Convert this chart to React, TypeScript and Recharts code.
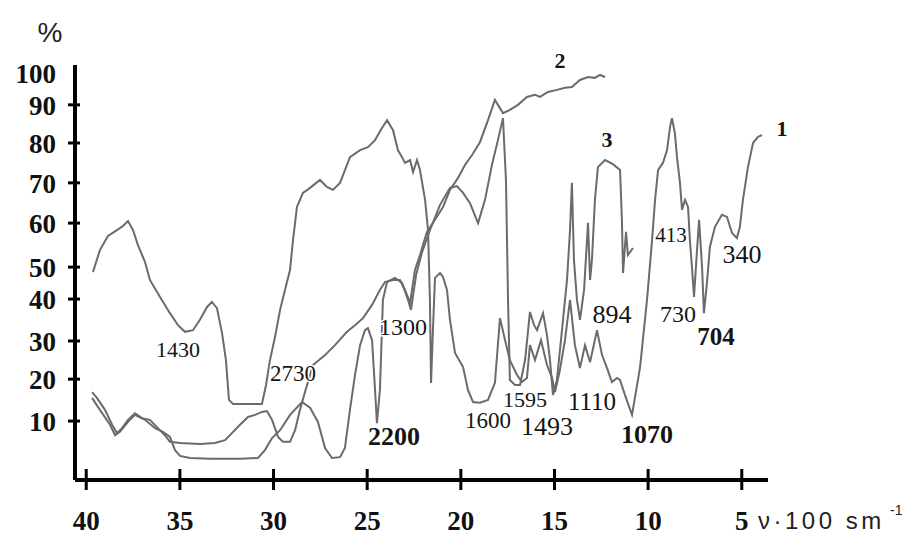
import { Line, LineChart, XAxis, YAxis } from "recharts";

// wavenumber / 100 (cm-1) and transmittance level as drawn on the printed axis
const wavenumberTicks = [40, 35, 30, 25, 20, 15, 10, 5];
const yTickLabels = [100, 90, 80, 70, 60, 50, 40, 30, 20, 10];
const yTickLevels = [98.1, 90.4, 81.2, 71.6, 61.9, 51.3, 43.6, 33.5, 24.3, 14.2];

const spectrum1: [number, number][] = [
  [39.64, 50.1], [39.27, 55.4], [38.84, 58.8], [38.36, 60.2], [38.04, 61.2], [37.77, 62.4], [37.5, 60.2],
  [37.24, 56.6], [36.86, 52.5], [36.6, 48.2], [36.06, 44.1], [35.53, 40.2], [35.1, 37.3], [34.73, 35.7],
  [34.3, 36.1], [33.93, 38.6], [33.55, 41.7], [33.29, 42.9], [33.02, 41.4], [32.75, 35.4], [32.54, 28.9],
  [32.38, 19.3], [32.16, 18.3], [31.52, 18.3], [30.62, 18.3], [30.4, 22.9], [30.19, 28.9], [29.92, 34.5],
  [29.65, 41.0], [29.39, 45.8], [29.12, 50.6], [28.96, 57.8], [28.75, 65.8], [28.43, 69.2], [28.05, 70.4],
  [27.52, 72.3], [27.15, 70.6], [26.83, 69.9], [26.45, 71.6], [25.92, 77.8], [25.38, 79.5], [24.96, 80.2],
  [24.58, 81.9], [24.21, 84.8], [23.94, 86.7], [23.62, 84.3], [23.36, 79.5], [23.14, 77.8], [22.98, 76.4],
  [22.71, 77.1], [22.55, 74.2], [22.34, 77.1], [22.18, 74.7], [21.91, 67.5], [21.75, 60.2], [21.65, 43.4],
  [21.59, 23.4], [21.49, 36.1], [21.38, 48.7], [21.11, 49.9], [20.95, 48.9], [20.74, 45.8], [20.58, 38.6],
  [20.31, 30.6], [19.88, 27.2], [19.62, 21.7], [19.35, 18.8], [18.98, 18.6], [18.55, 19.3], [18.18, 23.4],
  [17.91, 39.0], [17.64, 33.7], [17.38, 28.9], [17.0, 25.3], [16.74, 23.6], [16.47, 24.6], [16.31, 32.5],
  [16.04, 28.9], [15.72, 33.7], [15.4, 27.7], [15.13, 24.6], [14.97, 21.2], [14.71, 26.5], [14.44, 33.7],
  [14.17, 43.4], [13.91, 32.5], [13.64, 27.0], [13.37, 32.5], [13.1, 28.4], [12.73, 36.1], [12.46, 30.1],
  [12.2, 27.0], [11.93, 23.6], [11.66, 24.6], [11.5, 24.1], [11.24, 20.5], [10.86, 15.7], [10.43, 27.2],
  [10.06, 43.4], [9.79, 57.8], [9.63, 67.5], [9.47, 74.7], [9.21, 76.4], [8.99, 79.5], [8.83, 85.1],
  [8.73, 87.2], [8.57, 83.6], [8.46, 77.8], [8.3, 71.6], [8.19, 65.1], [8.03, 67.5], [7.87, 65.8],
  [7.77, 57.8], [7.66, 51.3], [7.55, 44.1], [7.39, 55.4], [7.28, 62.7], [7.12, 51.3], [7.02, 40.2],
  [6.86, 47.5], [6.7, 56.2], [6.43, 61.0], [6.06, 63.9], [5.79, 63.4], [5.52, 59.5], [5.26, 58.3],
  [5.1, 61.0], [4.94, 67.5], [4.67, 75.4], [4.4, 81.2], [4.14, 82.7], [3.92, 83.1],
];

const spectrum2: [number, number][] = [
  [39.69, 21.2], [39.43, 19.8], [39.0, 16.9], [38.62, 13.3], [38.36, 11.3], [38.09, 12.5], [37.77, 14.5],
  [37.4, 16.1], [37.02, 14.9], [36.6, 14.5], [36.17, 12.5], [35.8, 10.8], [35.53, 9.2], [34.99, 8.9],
  [33.93, 8.7], [33.13, 8.9], [32.59, 9.6], [32.22, 11.3], [31.79, 13.3], [31.36, 15.2], [30.99, 15.7],
  [30.62, 16.4], [30.35, 16.6], [30.08, 14.5], [29.76, 10.4], [29.5, 9.2], [29.12, 9.2], [28.85, 12.0],
  [28.59, 16.9], [28.32, 21.2], [27.89, 27.7], [27.25, 30.1], [26.72, 32.5], [26.08, 35.7], [25.65, 37.3],
  [25.22, 39.0], [24.74, 42.2], [24.32, 45.8], [24.05, 47.7], [23.62, 48.2], [23.25, 48.2], [22.98, 45.8],
  [22.71, 42.7], [22.45, 50.6], [22.18, 54.2], [21.81, 59.8], [21.38, 62.7], [20.95, 65.8], [20.58, 69.9],
  [20.15, 72.8], [19.78, 75.9], [19.4, 78.3], [18.98, 81.4], [18.55, 86.7], [18.18, 91.6], [17.75, 88.4],
  [17.38, 89.2], [16.95, 90.4], [16.47, 92.3], [16.04, 92.8], [15.77, 92.3], [15.35, 93.5], [14.87, 94.0],
  [14.44, 94.5], [14.07, 94.7], [13.64, 96.4], [13.21, 97.1], [12.84, 96.9], [12.57, 97.6], [12.3, 97.1],
];

const spectrum3: [number, number][] = [
  [39.69, 19.8], [39.27, 16.9], [38.73, 13.3], [38.46, 10.8], [38.2, 11.6], [37.77, 14.0], [37.4, 15.7],
  [36.86, 14.5], [36.33, 12.5], [35.9, 11.6], [35.53, 10.4], [35.26, 7.2], [34.99, 5.8], [34.46, 5.3],
  [33.39, 5.1], [31.79, 5.1], [30.83, 5.3], [30.46, 7.2], [30.08, 10.1], [29.65, 12.0], [29.12, 15.7],
  [28.48, 18.8], [28.05, 17.4], [27.63, 14.0], [27.25, 7.7], [26.88, 5.3], [26.45, 5.5], [26.19, 7.7],
  [25.92, 16.9], [25.65, 25.3], [25.38, 32.5], [25.12, 36.1], [24.96, 36.6], [24.74, 33.7], [24.58, 21.7],
  [24.48, 13.7], [24.32, 21.7], [24.16, 43.4], [23.94, 47.7], [23.52, 48.7], [23.14, 47.5], [22.82, 43.4],
  [22.66, 41.0], [22.39, 49.4], [22.07, 54.9], [21.65, 60.2], [21.11, 66.3], [20.58, 70.4], [20.21, 70.8],
  [19.88, 69.2], [19.51, 66.7], [19.08, 61.9], [18.71, 67.5], [18.34, 75.9], [18.02, 81.9], [17.75, 87.2],
  [17.59, 72.3], [17.48, 43.4], [17.38, 24.1], [17.11, 22.9], [16.84, 22.9], [16.57, 28.9], [16.31, 40.5],
  [16.09, 37.3], [15.93, 36.1], [15.61, 40.2], [15.4, 34.9], [15.24, 28.9], [15.08, 20.5], [14.87, 24.1],
  [14.6, 36.1], [14.33, 48.2], [14.17, 60.2], [14.07, 71.6], [13.96, 53.0], [13.8, 43.4], [13.64, 38.6],
  [13.42, 45.8], [13.21, 62.0], [13.1, 48.2], [13.0, 53.0], [12.84, 67.5], [12.68, 75.4], [12.3, 77.1],
  [11.88, 76.1], [11.5, 74.7], [11.4, 62.7], [11.34, 49.9], [11.18, 59.8], [11.08, 54.2], [10.81, 55.9],
];

// band labels placed over the plot, in page pixels
const notes = [
  { text: "1430", x: 178, y: 357, size: 22, bold: false },
  { text: "2730", x: 293, y: 381, size: 23, bold: false },
  { text: "1300", x: 403, y: 335, size: 24, bold: false },
  { text: "2200", x: 394, y: 445, size: 26, bold: true },
  { text: "1600", x: 488, y: 428, size: 23, bold: false },
  { text: "1595", x: 525, y: 407, size: 22, bold: false },
  { text: "1493", x: 547, y: 435, size: 26, bold: false },
  { text: "1110", x: 592, y: 410, size: 25, bold: false },
  { text: "894", x: 612, y: 323, size: 26, bold: false },
  { text: "1070", x: 647, y: 443, size: 26, bold: true },
  { text: "730", x: 678, y: 322, size: 24, bold: false },
  { text: "704", x: 716, y: 345, size: 25, bold: true },
  { text: "413", x: 671, y: 242, size: 21, bold: false },
  { text: "340", x: 742, y: 263, size: 26, bold: false },
  { text: "1", x: 782, y: 136, size: 22, bold: true },
  { text: "2", x: 560, y: 68, size: 22, bold: true },
  { text: "3", x: 607, y: 147, size: 22, bold: true },
];

const serif = '"Liberation Serif", "Times New Roman", serif';
const sans = '"Liberation Sans", Arial, sans-serif';
const curveColor = "#6b6b6b";

const toRows = (pts: [number, number][]) => pts.map(([x, y]) => ({ x, y }));

function XTick({ x, y, payload }: any) {
  return (
    <g>
      <line x1={x} x2={x} y1={y - 11} y2={y + 10} stroke="#000" strokeWidth={3} />
      <text x={x} y={y + 50} textAnchor="middle" fontFamily={serif} fontWeight="bold" fontSize={27} fill="#111">
        {payload.value}
      </text>
    </g>
  );
}

function YTick({ x, y, payload }: any) {
  const label = yTickLabels[yTickLevels.indexOf(payload.value)];
  return (
    <g>
      {label !== 100 && <line x1={x - 7} x2={x + 5} y1={y} y2={y} stroke="#000" strokeWidth={3} />}
      <text x={x - 19} y={y + 10} textAnchor="end" fontFamily={serif} fontWeight="bold" fontSize={27} fill="#111">
        {label}
      </text>
    </g>
  );
}

export default function App() {
  return (
    <div style={{ position: "absolute", left: 0, top: 0, width: 909, height: 535, background: "#fff" }}>
      <LineChart width={909} height={535} margin={{ top: 65, right: 141, bottom: 0, left: 0 }}>
        <XAxis
          type="number"
          dataKey="x"
          domain={[3.6, 40.6]}
          reversed
          allowDataOverflow
          ticks={wavenumberTicks}
          interval={0}
          height={55}
          tickSize={0}
          tickMargin={0}
          tickLine={false}
          axisLine={{ stroke: "#000", strokeWidth: 4 }}
          tick={(props: any) => <XTick {...props} />}
        />
        <YAxis
          type="number"
          domain={[0, 100]}
          ticks={yTickLevels}
          interval={0}
          width={75}
          tickSize={0}
          tickMargin={0}
          tickLine={false}
          axisLine={{ stroke: "#000", strokeWidth: 4 }}
          tick={(props: any) => <YTick {...props} />}
        />
        <Line data={toRows(spectrum1)} dataKey="y" type="linear" stroke={curveColor} strokeWidth={2} dot={false} isAnimationActive={false} />
        <Line data={toRows(spectrum2)} dataKey="y" type="linear" stroke={curveColor} strokeWidth={2} dot={false} isAnimationActive={false} />
        <Line data={toRows(spectrum3)} dataKey="y" type="linear" stroke={curveColor} strokeWidth={2} dot={false} isAnimationActive={false} />
      </LineChart>
      <svg width={909} height={535} style={{ position: "absolute", left: 0, top: 0, pointerEvents: "none" }}>
        <text x={50} y={42} textAnchor="middle" fontFamily={sans} fontSize={28} fill="#222">
          %
        </text>
        {notes.map((n) => (
          <text
            key={n.text}
            x={n.x}
            y={n.y}
            textAnchor="middle"
            fontFamily={serif}
            fontSize={n.size}
            fontWeight={n.bold ? "bold" : "normal"}
            fill="#151515"
            stroke="#fff"
            strokeWidth={3}
            paintOrder="stroke"
          >
            {n.text}
          </text>
        ))}
        <text x={758} y={529} fontFamily={sans} fontSize={24} fill="#222" letterSpacing={3.5}>
          ν·100 sm
        </text>
        <text x={890} y={515} fontFamily={sans} fontSize={14} fill="#222">
          -1
        </text>
      </svg>
    </div>
  );
}
